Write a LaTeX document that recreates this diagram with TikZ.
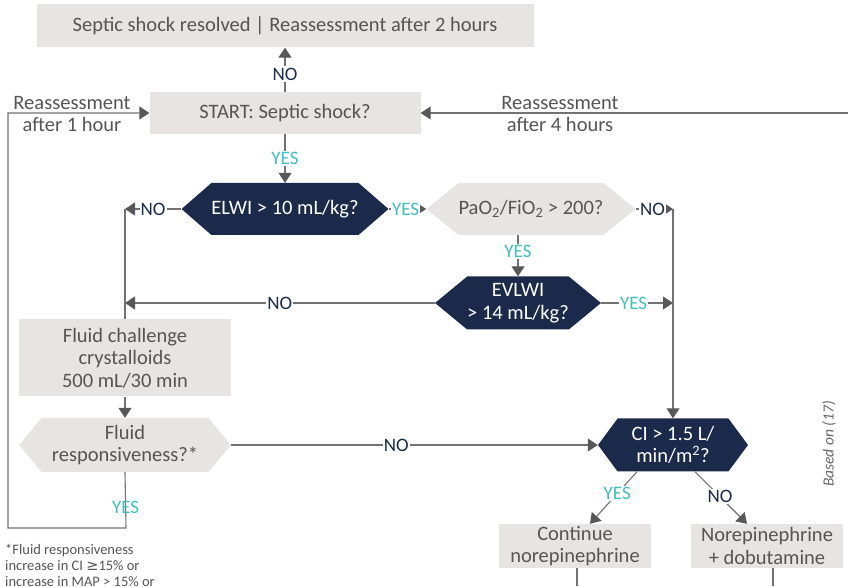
\documentclass[tikz,border=0pt]{standalone}
\usepackage{fontspec}
\setmainfont{Carlito}
\newfontfamily\symfont{DejaVu Sans}
\usetikzlibrary{arrows.meta,positioning,shapes.symbols}
\definecolor{boxgray}{HTML}{E8E4E3}
\definecolor{navy}{HTML}{1B2A4A}
\definecolor{yesteal}{HTML}{3EBFC0}
\definecolor{linegray}{HTML}{727272}
\definecolor{tipgray}{HTML}{585858}
\definecolor{textgray}{HTML}{555555}

\begin{document}
\begin{tikzpicture}[x=1pt,y=1pt,
  main font/.style={font=\fontsize{20.5}{22.5}\selectfont},
  label font/.style={font=\fontsize{19}{20}\selectfont},
  box/.style={rectangle,fill=boxgray,text=textgray,align=center,inner sep=0pt,main font},
  hex/.style={signal,signal to=west and east,align=center,inner sep=0pt,main font},
  dark hex/.style={hex,fill=navy,text=white},
  light hex/.style={hex,fill=boxgray,text=textgray},
  no/.style={fill=white,text=navy,inner xsep=1pt,inner ysep=1.5pt,label font},
  yes/.style={fill=white,text=yesteal,inner xsep=1pt,inner ysep=1.5pt,label font},
  link/.style={draw=linegray,line width=1.1pt},
  tip/.style={link,-{Triangle[length=10pt,width=13pt,color=tipgray]}}]

  \useasboundingbox (0,0) rectangle (848,586);

  \node[box,minimum width=271pt,minimum height=42pt] (start) at (285,473) {START: Septic shock?};
  \node[box,minimum width=497pt,minimum height=43pt] (resolved) [above of=start,node distance=87pt] {Septic shock resolved | Reassessment after 2 hours};
  \node[dark hex,minimum width=195pt,minimum height=52pt,signal pointer angle=82] (elwi) [below of=start,node distance=96pt] {ELWI > 10 mL/kg?};
  \node[light hex,minimum width=184pt,minimum height=52pt,signal pointer angle=78] (pao) [right of=elwi,node distance=246pt] {PaO\textsubscript{2}/FiO\textsubscript{2} > 200?};
  \node[dark hex,minimum width=150pt,minimum height=53pt,signal pointer angle=79] (evlwi) [below of=pao,node distance=94pt,xshift=-13pt] {EVLWI\\> 14 mL/kg?};
  \node[box,minimum width=212pt,minimum height=77pt] (fluid) at (125,228) {Fluid challenge\\crystalloids\\500 mL/30 min};
  \node[light hex,minimum width=212pt,minimum height=54pt,signal pointer angle=100] (resp) [below of=fluid,node distance=87pt] {Fluid\\responsiveness?*};
  \node[dark hex,minimum width=150pt,minimum height=53pt,signal pointer angle=107] (ci) [right of=resp,node distance=548pt] {CI > 1.5 L/\\min/m\textsuperscript{2}?};
  \node[box,minimum width=152pt,minimum height=44pt] (cont) [below of=ci,node distance=101pt,xshift=-98pt] {Continue\\norepinephrine};
  \node[box,minimum width=152pt,minimum height=44pt] (dobu) [right of=cont,node distance=192pt] {Norepinephrine\\+ dobutamine};

  \node[text=textgray,align=center,main font] (after1) at (72,472) {Reassessment\\after 1 hour};
  \node[text=textgray,align=center,main font] (after4) at (560,472) {Reassessment\\after 4 hours};
  \node[text=textgray,align=left,anchor=north west,inner sep=0pt,font=\fontsize{14.5}{16}\selectfont] (note) at (5,42) {*Fluid responsiveness\\increase in CI {\symfont ≥}15\% or\\increase in MAP > 15\% or};
  \node[text=textgray!90,rotate=90,font=\fontsize{15.5}{16}\selectfont\itshape] (source) at (829,142) {Based on (17)};

  \coordinate (floor) at (0,0);
  \coordinate (nojoin) at (fluid.north |- elwi.west);
  \coordinate (cijoin) at (ci.north |- pao.east);
  \coordinate (frturn) at (126,58);
  \coordinate (loopbl) at (8,58);
  \coordinate (looptl) at (8,473);
  \coordinate (rightedge) at (848,473);

  \path[every edge/.style={tip}]
    (start.north) edge node[no,pos=.4] {NO} (resolved.south)
    (start.south) edge node[yes] {YES} (elwi.north)
    (elwi.west) edge node[no] {NO} (nojoin)
    (elwi.east) edge node[yes,pos=.45] {YES} (pao.west)
    (pao.east) edge node[no,pos=.45] {NO} (cijoin)
    (cijoin) edge (ci.north)
    (evlwi.north |- pao.south) edge node[yes,pos=.4] {YES} (evlwi.north)
    (evlwi.west) edge node[no] {NO} (fluid.north |- evlwi.west)
    (evlwi.east) edge node[yes,pos=.45] {YES} (ci.north |- evlwi.east)
    (fluid.south) edge (resp.north)
    (resp.east) edge node[no,pos=.45] {NO} (ci.west)
    (rightedge) edge (start.east)
    ([xshift=-36pt]ci.south) edge node[yes,pos=.42] {YES} ([xshift=15pt]cont.north)
    ([xshift=22pt]ci.south) edge node[no,pos=.48] {NO} ([xshift=-20pt]dobu.north);

  \draw[link] (nojoin) -- (fluid.north);
  \draw[tip] (resp.south) -- node[text=yesteal,label font,pos=.63] {YES} (frturn) -- (loopbl) -- (looptl) -- (start.west);
  \draw[link] ([xshift=2pt]cont.south) -- ([xshift=2pt]cont.south |- floor);
  \draw[link] ([xshift=6pt]dobu.south) -- ([xshift=6pt]dobu.south |- floor);
\end{tikzpicture}
\end{document}
